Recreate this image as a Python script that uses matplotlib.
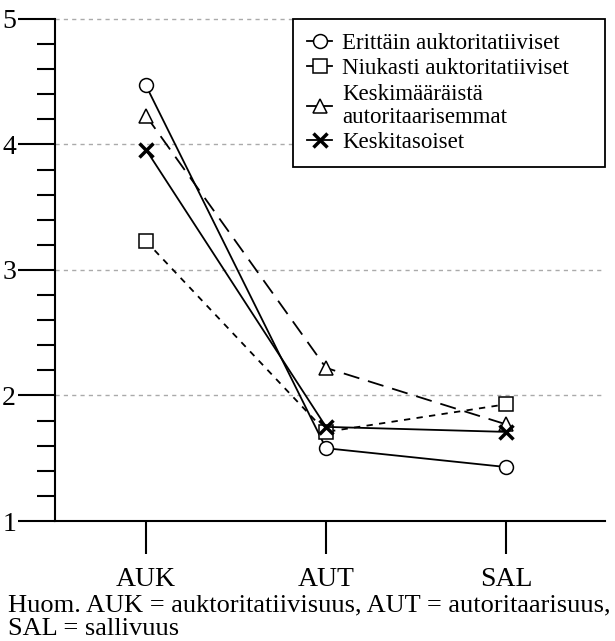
import matplotlib.pyplot as plt
from matplotlib.ticker import MultipleLocator

plt.rcParams['font.family'] = ['Liberation Serif', 'DejaVu Serif']

categories = ['AUK', 'AUT', 'SAL']
erittain = [4.47, 1.58, 1.43]
niukasti = [3.23, 1.71, 1.93]
keskimaar = [4.23, 2.22, 1.77]
keskitaso = [3.96, 1.75, 1.71]

labels = ['Erittäin auktoritatiiviset', 'Niukasti auktoritatiiviset',
          'Keskimääräistä\nautoritaarisemmat', 'Keskitasoiset']

fig = plt.figure(figsize=(6.15, 6.41), dpi=100)
ax = fig.add_axes([0.0894, 0.1872, 0.8946, 0.7832])

x = range(len(categories))
mk = dict(color='black', markerfacecolor='white', markeredgecolor='black',
          markersize=10, markeredgewidth=1.1, linewidth=1.3)
ax.plot(x, erittain, marker='o', linestyle='-', label=labels[0], **mk)
ax.plot(x, niukasti, marker='s', linestyle=(0, (3.5, 3.5)), label=labels[1], **mk)
ax.plot(x, keskimaar, marker='^', linestyle=(0, (9, 5)), label=labels[2], **mk)
ax.plot(x, keskitaso, marker='x', linestyle='-', color='black', markersize=10,
        markeredgewidth=2.5, linewidth=1.3, label=labels[3])

ax.set_xlim(-0.505, 2.55)
ax.set_ylim(1, 5)
ax.set_xticks(list(x))
ax.set_xticklabels(categories, fontsize=20)
ax.set_yticks([1, 2, 3, 4, 5])
ax.yaxis.set_minor_locator(MultipleLocator(0.2))
ax.tick_params(axis='y', which='major', length=27, width=1.5, labelsize=20, pad=1)
ax.tick_params(axis='y', which='minor', length=13, width=1.5)
ax.tick_params(axis='x', which='major', length=24, width=1.5, pad=9)

for s in ['top', 'right']:
    ax.spines[s].set_visible(False)
for s in ['left', 'bottom']:
    ax.spines[s].set_linewidth(1.5)

for v in [2, 3, 4, 5]:
    ax.axhline(v, color='#aaaaaa', linestyle=(0, (3, 3)), linewidth=1, zorder=0,
               clip_on=False)

leg = ax.legend(loc='upper right', bbox_to_anchor=(0.433, 0.6, 0.567, 0.4),
                mode='expand', fontsize=16.5,
                handlelength=1.1, handletextpad=0.45, borderpad=0.6,
                labelspacing=0.2, fancybox=False, framealpha=1,
                edgecolor='black', borderaxespad=0.0)
leg.get_frame().set_linewidth(1.3)
for t in leg.get_texts():
    t.set_linespacing(1.1)
for h in leg.legend_handles:
    h.set_linestyle('-')

fig.text(0.013, 0.073,
         'Huom. AUK = auktoritatiivisuus, AUT = autoritaarisuus,\nSAL = sallivuus',
         fontsize=19, ha='left', va='top', linespacing=1.12)

fig.savefig('out.png', dpi=100)
